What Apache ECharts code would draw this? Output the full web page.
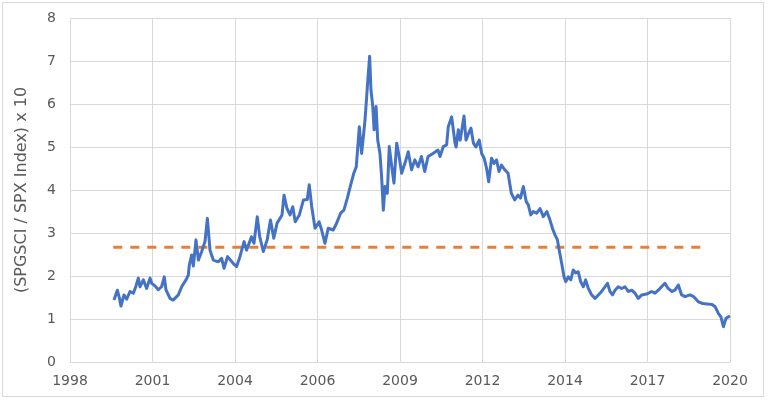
<!DOCTYPE html>
<html>
<head>
<meta charset="utf-8">
<script src="https://cdn.jsdelivr.net/npm/echarts@6/dist/echarts.min.js"></script>
<style>
  html, body { margin: 0; padding: 0; background: #fff; }
  #frame { position: absolute; left: 2px; top: 2px; width: 762px; height: 395px; border: 1px solid #D9D9D9; box-sizing: border-box; }
  #chart { position: absolute; left: 0; top: 0; width: 768px; height: 403px; }
</style>
</head>
<body>
<div id="frame"></div>
<div id="chart"></div>
<script>
// X tick labels (Excel date axis, equal spacing)
const xTickLabels = ['1998', '2001', '2004', '2006', '2009', '2012', '2014', '2017', '2020'];
const yTicks = [0, 1, 2, 3, 4, 5, 6, 7, 8];

// Position along the x axis (in tick-interval units, 0 = "1998", 8 = "2020")
const ratioX = [
  0.533,0.574,0.60,0.618,0.654,0.687,0.727,0.768,0.80,0.828,0.848,0.889,0.929,0.97,0.99,1.03,1.07,1.11,1.143,1.163,
  1.212,1.25,1.313,1.354,1.406,1.434,1.446,1.475,1.495,1.527,1.556,1.596,1.636,1.665,1.697,1.737,1.798,1.838,1.867,1.879,
  1.91,1.98,2.02,2.06,2.11,2.14,2.20,2.23,2.27,2.30,2.343,2.39,2.43,2.47,2.51,2.57,2.594,2.63,2.667,2.70,
  2.73,2.78,2.83,2.876,2.90,2.93,2.97,3.02,3.05,3.09,3.13,3.19,3.23,3.28,3.32,3.36,3.40,3.44,3.47,3.507,
  3.535,3.556,3.576,3.596,3.616,3.632,3.648,3.67,3.686,3.71,3.73,3.757,3.777,3.798,3.818,3.846,3.87,3.90,3.927,3.96,
  3.99,4.02,4.06,4.10,4.14,4.18,4.22,4.26,4.30,4.34,4.40,4.46,4.485,4.525,4.565,4.585,4.626,4.667,4.68,4.707,
  4.73,4.776,4.80,4.83,4.86,4.89,4.92,4.96,4.99,5.02,5.05,5.075,5.11,5.14,5.17,5.20,5.23,5.27,5.31,5.35,
  5.39,5.43,5.46,5.495,5.53,5.556,5.585,5.616,5.657,5.697,5.737,5.78,5.818,5.85,5.88,5.907,5.93,5.96,5.988,6.01,
  6.04,6.07,6.10,6.13,6.16,6.19,6.222,6.25,6.283,6.323,6.364,6.404,6.444,6.485,6.515,6.545,6.576,6.606,6.646,6.687,
  6.727,6.768,6.808,6.848,6.889,6.93,6.99,7.05,7.09,7.131,7.17,7.212,7.25,7.293,7.333,7.374,7.414,7.455,7.515,7.56,
  7.616,7.67,7.72,7.778,7.818,7.859,7.89,7.92,7.95,7.98,8.0
];
// (SPGSCI / SPX Index) x 10
const ratioY = [
  1.44,1.67,1.48,1.30,1.56,1.46,1.64,1.60,1.77,1.95,1.75,1.91,1.71,1.95,1.83,1.77,1.68,1.75,1.98,1.68,
  1.48,1.44,1.56,1.75,1.91,2.02,2.25,2.49,2.23,2.84,2.37,2.57,2.80,3.34,2.60,2.37,2.33,2.41,2.18,2.14,
  2.45,2.29,2.22,2.45,2.80,2.60,2.91,2.76,3.38,2.91,2.57,2.84,3.30,2.88,3.23,3.42,3.88,3.57,3.42,3.61,
  3.26,3.42,3.77,3.78,4.12,3.61,3.11,3.26,3.07,2.76,3.11,3.07,3.22,3.46,3.53,3.80,4.10,4.39,4.54,5.47,
  4.85,5.24,5.63,6.17,6.71,7.11,6.33,5.94,5.40,5.94,5.16,4.85,4.31,3.53,4.08,3.92,5.01,4.54,4.16,5.09,
  4.78,4.39,4.62,4.89,4.47,4.70,4.54,4.78,4.43,4.78,4.85,4.93,4.78,5.01,5.05,5.47,5.70,5.09,5.00,5.40,
  5.16,5.72,5.16,5.31,5.44,5.09,5.00,5.16,4.85,4.74,4.50,4.19,4.74,4.62,4.70,4.43,4.58,4.47,4.39,3.92,
  3.77,3.88,3.81,4.08,3.73,3.65,3.42,3.50,3.46,3.57,3.38,3.50,3.30,3.10,2.95,2.85,2.60,2.29,1.98,1.87,
  1.98,1.91,2.14,2.07,2.10,1.87,1.75,1.91,1.71,1.56,1.48,1.56,1.64,1.75,1.83,1.64,1.56,1.67,1.75,1.71,
  1.75,1.64,1.67,1.60,1.48,1.56,1.58,1.64,1.60,1.67,1.75,1.83,1.71,1.64,1.67,1.79,1.56,1.52,1.56,1.52,
  1.40,1.36,1.35,1.34,1.29,1.13,1.05,0.82,1.01,1.05,1.07
];
// Long-run average (dashed line)
const avgLevel = 2.67;
const avgStartX = 0.525;
const avgEndX = 7.67;

const yTitle = '(SPGSCI / SPX Index) x 10';

const FONT = "'DejaVu Sans', Verdana, sans-serif";
const chart = echarts.init(document.getElementById('chart'), null, { renderer: 'canvas' });
chart.setOption({
  animation: false,
  backgroundColor: 'transparent',
  grid: { left: 70, right: 38, top: 18, bottom: 41, containLabel: false },
  xAxis: {
    type: 'value', min: 0, max: xTickLabels.length - 1, interval: 1,
    axisLine: { show: true, lineStyle: { color: '#D9D9D9', width: 1 } },
    axisTick: { show: false },
    splitLine: { show: true, lineStyle: { color: '#D9D9D9', width: 1 } },
    axisLabel: {
      color: '#595959', fontFamily: FONT, fontSize: 14, margin: 12,
      showMinLabel: true, showMaxLabel: true,
      formatter: v => xTickLabels[Math.round(v)] || ''
    }
  },
  yAxis: {
    type: 'value', min: yTicks[0], max: yTicks[yTicks.length - 1], interval: 1,
    name: yTitle, nameLocation: 'middle', nameGap: 40,
    nameTextStyle: { color: '#595959', fontFamily: FONT, fontSize: 16 },
    axisLine: { show: false },
    axisTick: { show: false },
    splitLine: { show: true, lineStyle: { color: '#D9D9D9', width: 1 } },
    axisLabel: { color: '#595959', fontFamily: FONT, fontSize: 14, margin: 14 }
  },
  series: [
    {
      type: 'line',
      data: [[avgStartX, avgLevel], [avgEndX, avgLevel]],
      symbol: 'none',
      lineStyle: { color: '#ED7D31', width: 3, type: [9, 8] },
      z: 2
    },
    {
      type: 'line',
      data: ratioX.map((x, i) => [x, ratioY[i]]),
      symbol: 'none',
      lineStyle: { color: '#4472C4', width: 3, join: 'round' },
      z: 3
    }
  ]
});
</script>
</body>
</html>
